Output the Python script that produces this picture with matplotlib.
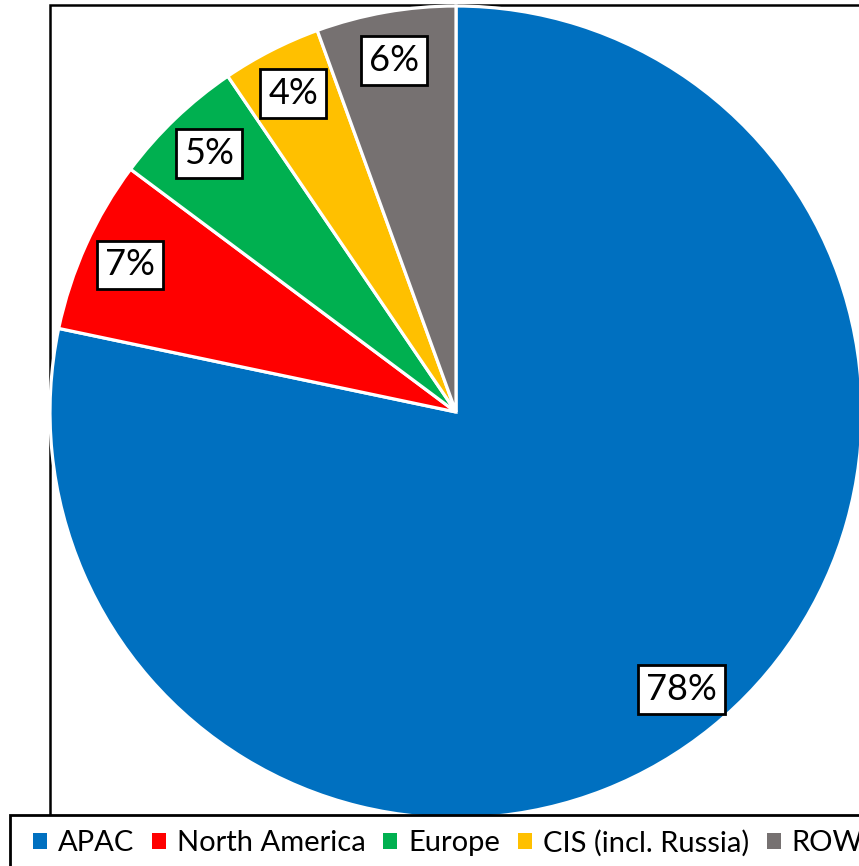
import matplotlib
matplotlib.use("Agg")
import matplotlib.pyplot as plt
from matplotlib.patches import Patch, Rectangle

plt.rcParams['font.family'] = ['Lato', 'DejaVu Sans']

# Regional share (%)
regions = ["APAC", "North America", "Europe", "CIS (incl. Russia)", "ROW"]
shares = [78.3, 6.9, 5.3, 3.95, 5.55]
colors = ["#0070C0", "#FF0000", "#00B050", "#FFC000", "#767171"]

W, H = 859, 866
fig = plt.figure(figsize=(W / 100, H / 100), dpi=100)
ax = fig.add_axes([0, 0, 1, 1])

# chart frame (left and top edges visible)
ax.add_patch(Rectangle((50, -50), 1000, H - 5 + 50, fill=False,
                       edgecolor="black", linewidth=1.8, zorder=0))

wedges, _, autotexts = ax.pie(
    shares,
    colors=colors,
    startangle=90,
    counterclock=False,
    center=(456, H - 412),
    radius=406,
    autopct="%1.0f%%",
    pctdistance=0.88,
    wedgeprops=dict(edgecolor="white", linewidth=2.3),
    textprops=dict(fontsize=26, color="black"),
)
for t in autotexts:
    t.set_bbox(dict(boxstyle="square,pad=0.22", facecolor="white",
                    edgecolor="black", linewidth=2))

ax.set_xlim(0, W)
ax.set_ylim(0, H)
ax.set_aspect("equal")
ax.axis("off")

# legend box running off the lower right edge
ax.add_patch(Rectangle((10, -30), 1000, 30 + (H - 815), facecolor="white",
                       edgecolor="black", linewidth=2, zorder=5))

handles = [Patch(facecolor=c, edgecolor="none") for c in colors]
leg = fig.legend(
    handles, regions, ncol=5,
    loc="center left", bbox_to_anchor=(33 / W, 1 - 843 / H),
    bbox_transform=fig.transFigure,
    frameon=False, fontsize=21,
    handlelength=0.48, handleheight=0.5, handletextpad=0.38,
    columnspacing=0.6, borderpad=0, borderaxespad=0,
)
leg.set_zorder(6)

fig.savefig("out.png", dpi=100)
